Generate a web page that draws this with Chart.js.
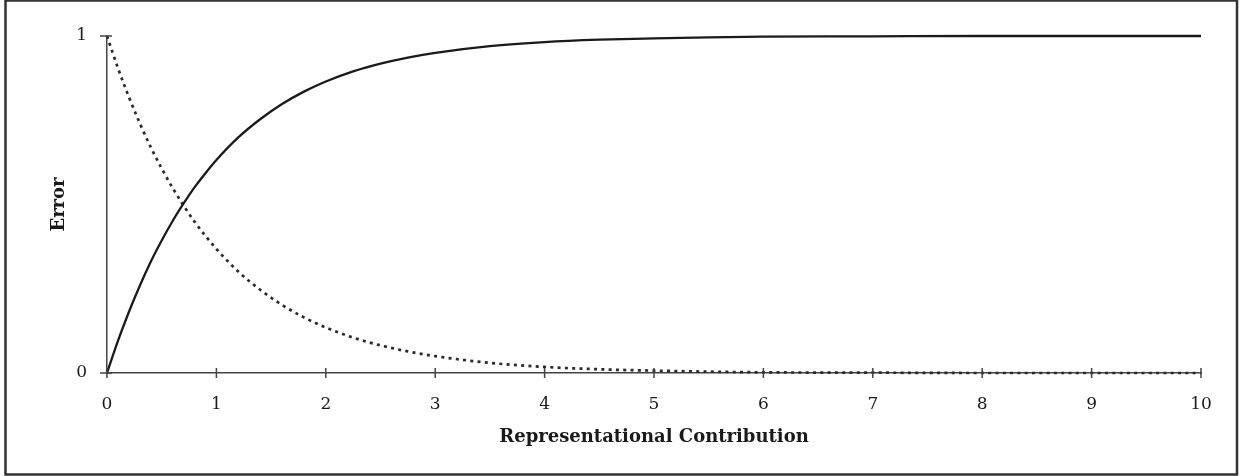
<!DOCTYPE html>
<html>
<head>
<meta charset="utf-8">
<script src="https://cdn.jsdelivr.net/npm/chart.js@4/dist/chart.umd.min.js"></script>
<style>
  html, body { margin: 0; padding: 0; background: #fff; }
  #wrap { width: 1244px; height: 476px; position: relative; }
</style>
</head>
<body>
<div id="wrap"><canvas id="c" width="1244" height="476"></canvas></div>
<script>
// Data
const xValues = [0, 0.1, 0.2, 0.3, 0.4, 0.5, 0.6, 0.7, 0.8, 0.9, 1, 1.2, 1.4, 1.6, 1.8, 2, 2.25, 2.5, 2.75, 3, 3.5, 4, 4.5, 5, 5.5, 6, 7, 8, 9, 10];
const solidSeries = [0, 0.095, 0.181, 0.259, 0.330, 0.393, 0.451, 0.503, 0.551, 0.593, 0.632, 0.699, 0.753, 0.798, 0.835, 0.865, 0.895, 0.918, 0.936, 0.950, 0.970, 0.982, 0.989, 0.993, 0.996, 0.998, 0.999, 1, 1, 1];
const dottedSeries = [1, 0.905, 0.819, 0.741, 0.670, 0.607, 0.549, 0.497, 0.449, 0.407, 0.368, 0.301, 0.247, 0.202, 0.165, 0.135, 0.105, 0.082, 0.064, 0.050, 0.030, 0.018, 0.011, 0.007, 0.004, 0.002, 0.001, 0, 0, 0];
const xTicks = [0, 1, 2, 3, 4, 5, 6, 7, 8, 9, 10];
const yTicks = [0, 1];
const xTitle = 'Representational Contribution';
const yTitle = 'Error';

const toPoints = (ys) => xValues.map((x, i) => ({ x: x, y: ys[i] }));

const serif = "'DejaVu Serif', 'Liberation Serif', serif";
const axisColor = '#444';

const decorPlugin = {
  id: 'decor',
  afterDraw(chart) {
    const ctx = chart.ctx;
    const xs = chart.scales.x, ys = chart.scales.y;
    const y0 = ys.getPixelForValue(0);
    const x0 = xs.getPixelForValue(0);
    ctx.save();
    ctx.strokeStyle = axisColor;
    ctx.lineWidth = 1.5;
    xTicks.forEach(v => {
      const px = xs.getPixelForValue(v);
      ctx.beginPath();
      ctx.moveTo(px, y0 - 5);
      ctx.lineTo(px, y0 + 5);
      ctx.stroke();
    });
    yTicks.forEach(v => {
      const py = ys.getPixelForValue(v);
      ctx.beginPath();
      ctx.moveTo(x0 - 7, py);
      ctx.lineTo(x0 + 5, py);
      ctx.stroke();
    });
    // outer frame
    ctx.strokeStyle = '#333';
    ctx.lineWidth = 2.5;
    ctx.strokeRect(5.5, 0.5, 1231.5, 474);
    ctx.restore();
  }
};

new Chart(document.getElementById('c'), {
  type: 'scatter',
  data: {
    datasets: [
      {
        data: toPoints(solidSeries),
        showLine: true,
        borderColor: '#1a1a1a',
        borderWidth: 2.3,
        pointRadius: 0,
        cubicInterpolationMode: 'monotone',
        clip: false
      },
      {
        data: toPoints(dottedSeries),
        showLine: true,
        borderColor: '#2a2a2a',
        borderWidth: 2.7,
        borderDash: [3, 4.3],
        pointRadius: 0,
        cubicInterpolationMode: 'monotone',
        clip: false
      }
    ]
  },
  options: {
    responsive: false,
    animation: false,
    events: [],
    layout: { padding: { top: 36, right: 43, left: 0, bottom: 0 } },
    plugins: { legend: { display: false }, tooltip: { enabled: false } },
    scales: {
      x: {
        type: 'linear',
        min: 0, max: 10,
        afterFit(s) { s.height = 103; },
        afterBuildTicks(s) { s.ticks = xTicks.map(v => ({ value: v })); },
        grid: { display: false, drawTicks: false },
        border: { display: true, color: axisColor, width: 1.5 },
        ticks: { padding: 21, color: '#1a1a1a', font: { family: serif, size: 17 }, maxRotation: 0, autoSkip: false },
        title: { display: true, text: xTitle, color: '#1a1a1a', font: { family: serif, size: 18, weight: 'bold' }, padding: { top: 0, bottom: 28 } }
      },
      y: {
        type: 'linear',
        min: 0, max: 1,
        afterFit(s) { s.width = 107; },
        afterBuildTicks(s) { s.ticks = yTicks.map(v => ({ value: v })); },
        grid: { display: false, drawTicks: false },
        border: { display: true, color: axisColor, width: 1.5 },
        ticks: { padding: 20, color: '#1a1a1a', font: { family: serif, size: 17 } },
        title: { display: true, text: yTitle, color: '#1a1a1a', font: { family: serif, size: 18, weight: 'bold' }, padding: { top: 49, bottom: 0 } }
      }
    }
  },
  plugins: [decorPlugin]
});
</script>
</body>
</html>
